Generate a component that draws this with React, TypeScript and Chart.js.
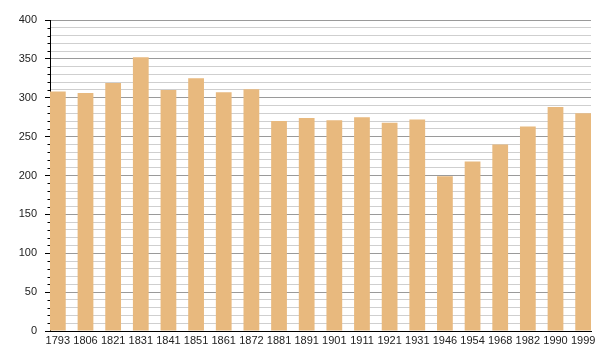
import React, { useEffect, useRef } from "react";
import { Chart, registerables } from "chart.js";

Chart.register(...registerables);

const years = ["1793", "1806", "1821", "1831", "1841", "1851", "1861", "1872", "1881", "1891", "1901", "1911", "1921", "1931", "1946", "1954", "1968", "1982", "1990", "1999"];
const population = [308, 306, 319, 352, 310, 325, 307, 311, 270, 274, 271, 275, 268, 272, 199, 218, 240, 263, 288, 280];
const yMin = 0;
const yMax = 400;
const yStep = 10;
const yLabelStep = 50;

const minorTicks = {
  id: "minorTicks",
  afterDraw(chart: any) {
    const y = chart.scales.y;
    const ctx = chart.ctx;
    const left = chart.chartArea.left;
    ctx.save();
    ctx.strokeStyle = "#000";
    ctx.lineWidth = 1;
    for (let v = yMin; v <= yMax; v += yStep) {
      if (v % yLabelStep === 0) continue;
      const py = Math.round(y.getPixelForValue(v)) + 0.5;
      ctx.beginPath();
      ctx.moveTo(left - 2.5, py);
      ctx.lineTo(left, py);
      ctx.stroke();
    }
    ctx.restore();
  },
};

export default function App() {
  const ref = useRef<HTMLCanvasElement>(null);
  useEffect(() => {
    if (!ref.current) return;
    const chart = new Chart(ref.current, {
      type: "bar",
      data: {
        datasets: [
          {
            data: population.map((v, i) => ({ x: i, y: v })),
            backgroundColor: "#e8b97e",
            borderWidth: 0,
            barPercentage: 0.57,
            categoryPercentage: 1,
          },
        ],
      },
      options: {
        animation: false,
        responsive: false,
        maintainAspectRatio: false,
        layout: { padding: { top: 20, right: 9, bottom: 0, left: 0 } },
        plugins: { legend: { display: false }, tooltip: { enabled: false } },
        scales: {
          x: {
            type: "linear",
            offset: false,
            min: -0.284,
            max: years.length - 1 + 0.284,
            afterBuildTicks: (axis: any) => {
              axis.ticks = years.map((_, i) => ({ value: i }));
            },
            afterFit: (scale: any) => {
              scale.height = 29;
            },
            grid: { display: true, color: "transparent", drawTicks: false },
            border: { display: true, color: "#000", width: 1 },
            ticks: {
              autoSkip: false,
              maxRotation: 0,
              padding: 3,
              color: "#222",
              font: { family: "'Liberation Sans', Arial, sans-serif", size: 11 },
              callback: (v: any) => years[v] ?? "",
            },
          },
          y: {
            min: yMin,
            max: yMax,
            afterFit: (scale: any) => {
              scale.width = 50;
            },
            grid: {
              color: (c: any) => (c.tick && c.tick.value % yLabelStep === 0 ? "#9a9a9a" : "#cfcfcf"),
              tickColor: (c: any) => (c.tick && c.tick.value % yLabelStep === 0 ? "#000" : "transparent"),
              tickLength: 5,
              drawTicks: true,
            },
            border: { display: true, color: "#000", width: 1 },
            ticks: {
              stepSize: yStep,
              autoSkip: false,
              padding: 8,
              color: "#222",
              font: { family: "'Liberation Sans', Arial, sans-serif", size: 11 },
              callback: (v: any) => (Number(v) % yLabelStep === 0 ? String(v) : ""),
            },
          },
        },
      },
      plugins: [minorTicks],
    });
    return () => chart.destroy();
  }, []);
  return (
    <div style={{ position: "fixed", left: 0, top: 0, width: 600, height: 360, background: "#fff" }}>
      <canvas ref={ref} width={600} height={360} style={{ width: 600, height: 360 }} />
    </div>
  );
}
